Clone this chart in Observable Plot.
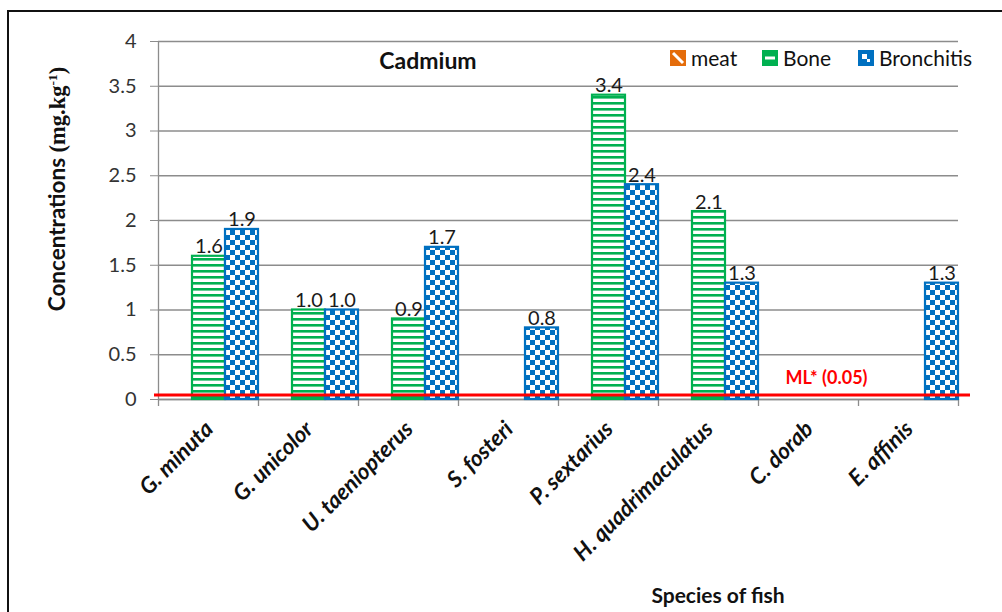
<!DOCTYPE html>
<html>
<head>
<meta charset="utf-8">
<script src="https://cdn.jsdelivr.net/npm/d3@7"></script>
<script src="https://cdn.jsdelivr.net/npm/@observablehq/plot@0.6"></script>
<style>
  html, body { margin: 0; padding: 0; background: #fff; overflow: hidden; }
  #chart { position: relative; width: 1002px; height: 612px; overflow: hidden; font-family: Lato, "Open Sans", sans-serif; color: #111; }
  #chart .layer { position: absolute; left: 0; top: 0; }
  .border { position: absolute; left: 7px; top: 10px; width: 1200px; height: 900px; border: 2px solid #111; box-sizing: border-box; }
  .title { position: absolute; left: 428px; top: 60px; transform: translate(-50%, -50%); font-weight: bold; font-size: 23px; white-space: nowrap; }
  .ytitle { position: absolute; left: 57px; top: 189px; transform: translate(-50%, -50%) rotate(-90deg); font-weight: bold; font-size: 22.5px; white-space: nowrap; }
  .ytitle .unit { font-family: "Liberation Serif", serif; }
  .ytitle sup { font-size: 0.6em; }
  .xtitle { position: absolute; left: 718px; top: 594px; transform: translate(-50%, -50%); font-weight: bold; font-size: 21px; white-space: nowrap; }
  .legend-item { position: absolute; top: 45px; display: flex; align-items: center; font-size: 21px; white-space: nowrap; }
  .legend-item svg { margin-right: 5px; }
</style>
</head>
<body>
<svg width="0" height="0" style="position:absolute">
  <defs>
    <pattern id="pat-meat" patternUnits="userSpaceOnUse" width="6" height="6" patternTransform="rotate(45)">
      <rect width="6" height="6" fill="#fff"/><rect width="3" height="6" fill="#E46C0A"/>
    </pattern>
    <pattern id="pat-bone" patternUnits="userSpaceOnUse" width="6" height="6">
      <rect width="6" height="6" fill="#fff"/><rect width="6" height="2.6" fill="#00B050"/>
    </pattern>
    <pattern id="pat-bronchitis" patternUnits="userSpaceOnUse" width="10" height="10">
      <rect width="10" height="10" fill="#fff"/>
      <rect width="5" height="5" fill="#0070C0"/>
      <rect x="5" y="5" width="5" height="5" fill="#0070C0"/>
    </pattern>
  </defs>
</svg>
<div id="chart">
  <div class="border"></div>
</div>
<script>
// Cadmium concentrations (mg/kg) by fish species and tissue
const species = ["G. minuta", "G. unicolor", "U. taeniopterus", "S. fosteri",
                 "P. sextarius", "H. quadrimaculatus", "C. dorab", "E. affinis"];
const seriesNames = ["meat", "Bone", "Bronchitis"];
const meat = [null, null, null, null, null, null, null, null];
const bone = [1.6, 1.0, 0.9, null, 3.4, 2.1, null, null];
const bronchitis = [1.9, 1.0, 1.7, 0.8, 2.4, 1.3, null, 1.3];
const yTicks = [0, 0.5, 1, 1.5, 2, 2.5, 3, 3.5, 4];
const maxLimit = 0.05; // maximum permissible level (ML*)

const colors = {meat: "#E46C0A", Bone: "#00B050", Bronchitis: "#0070C0"};
const patterns = {meat: "url(#pat-meat)", Bone: "url(#pat-bone)", Bronchitis: "url(#pat-bronchitis)"};

const valuesBySeries = {meat, Bone: bone, Bronchitis: bronchitis};
const rows = species.flatMap((s, i) =>
  seriesNames.map(series => ({species: s, series, value: valuesBySeries[series][i]}))
).filter(d => d.value != null);

const frame = {
  width: 1002, height: 612,
  marginTop: 41, marginRight: 44, marginBottom: 213, marginLeft: 158,
  style: {background: "none", fontFamily: "Lato, 'Open Sans', sans-serif", overflow: "visible"}
};

const chart = document.getElementById("chart");
function addLayer(svg) {
  svg.classList.add("layer");
  chart.appendChild(svg);
}

// Back layer: gridlines, value axis and category boundary ticks
addLayer(Plot.plot({
  ...frame,
  x: {type: "linear", domain: [0, species.length], axis: null},
  y: {domain: [0, 4], axis: null},
  marks: [
    Plot.gridY(yTicks, {stroke: "#8c8c8c", strokeOpacity: 1, strokeWidth: 1.3}),
    Plot.axisY(yTicks, {tickSize: 8, tickPadding: 14, stroke: "#8c8c8c", fill: "#333",
                        fontSize: 20, tickFormat: d => String(d), label: null}),
    Plot.ruleX([0], {stroke: "#8c8c8c", strokeWidth: 1.3}),
    Plot.ruleY([0], {stroke: "#8c8c8c", strokeWidth: 1.3}),
    Plot.axisX(d3.range(species.length + 1), {tickSize: 7, stroke: "#8c8c8c", strokeWidth: 1.3,
                                                tickFormat: () => "", label: null})
  ]
}));

// Middle layer: grouped bars, value labels and species names
addLayer(Plot.plot({
  ...frame,
  fx: {domain: species, padding: 0, axis: null, label: null},
  x: {domain: seriesNames, padding: 0, axis: null},
  y: {domain: [0, 4], axis: null},
  marks: [
    ...seriesNames.map(name => Plot.barY(rows.filter(d => d.series === name), {
      fx: "species", x: "series", y: "value",
      fill: patterns[name], stroke: colors[name], strokeWidth: 2.2
    })),
    Plot.text(rows, {
      fx: "species", x: "series", y: "value",
      text: d => d.value.toFixed(1), lineAnchor: "bottom", dy: -3,
      fontSize: 20, fill: "#1a1a1a"
    }),
    Plot.text(species, {
      fx: d => d, text: d => d, frameAnchor: "bottom",
      rotate: -45, textAnchor: "end", dx: 6, dy: 31,
      fontSize: 22.5, fontWeight: "bold", fontStyle: "italic", fill: "#111"
    })
  ]
}));

// Front layer: maximum level reference line and its label
addLayer(Plot.plot({
  ...frame,
  x: {type: "linear", domain: [0, species.length], axis: null},
  y: {domain: [0, 4], axis: null},
  marks: [
    Plot.ruleY([maxLimit], {stroke: "#FF0000", strokeWidth: 3, insetLeft: -4, insetRight: -12}),
    Plot.text([maxLimit], {
      x: 6.27, y: d => d, text: d => `ML* (${d.toFixed(2)})`,
      textAnchor: "start", dy: -17, fontSize: 18, fontWeight: "bold", fill: "#FF0000"
    })
  ]
}));

// Titles
chart.insertAdjacentHTML("beforeend", `
  <div class="title">Cadmium</div>
  <div class="ytitle">Concentrations <span class="unit">(mg.kg<sup>-1</sup>)</span></div>
  <div class="xtitle">Species of fish</div>
`);

// Legend
const legendLeft = {meat: 670, Bone: 762, Bronchitis: 858};
seriesNames.forEach(name => {
  const item = document.createElement("div");
  item.className = "legend-item";
  item.style.left = legendLeft[name] + "px";
  const c = colors[name];
  let inner = "";
  if (name === "meat") inner = `<line x1="3" y1="3" x2="13" y2="13" stroke="#fff" stroke-width="3"/>`;
  if (name === "Bone") inner = `<rect x="3" y="6.5" width="10" height="3" fill="#fff"/>`;
  if (name === "Bronchitis") inner = `<rect x="4" y="4" width="5" height="5" fill="#fff"/><rect x="9" y="9" width="3" height="3" fill="#fff"/>`;
  item.innerHTML = `<svg width="16" height="16"><rect x="0" y="0" width="16" height="16" fill="${c}"/>${inner}</svg><span>${name}</span>`;
  chart.appendChild(item);
});
</script>
</body>
</html>
